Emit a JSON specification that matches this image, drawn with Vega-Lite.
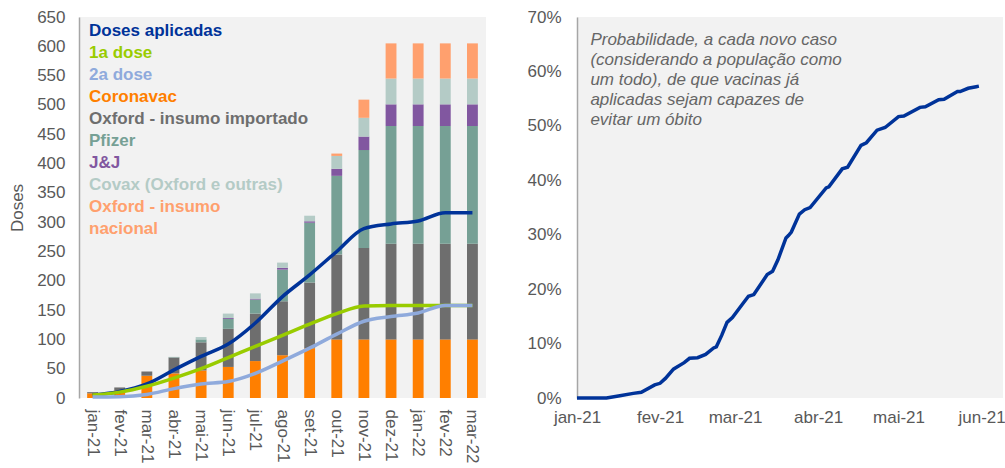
{
  "$schema": "https://vega.github.io/schema/vega-lite/v6.json",
  "background": "white",
  "padding": {"left": 8, "top": 8, "right": 0, "bottom": 0},
  "config": {
    "font": "Liberation Sans",
    "view": {"fill": "#F2F2F2", "stroke": null},
    "axis": {"labelFont": "Liberation Sans", "labelFontSize": 17, "labelColor": "#595959", "ticks": false, "grid": false, "labelOverlap": false, "domainColor": "#A6A6A6", "domainWidth": 1.5, "titleFont": "Liberation Sans", "titleFontSize": 17, "titleColor": "#595959", "titleFontWeight": "normal"}
  },
  "datasets": {
    "barras": [
      {"mes": "jan-21", "serie": "Coronavac", "ordem": 1, "doses": 8},
      {"mes": "jan-21", "serie": "Oxford - insumo importado", "ordem": 2, "doses": 2},
      {"mes": "fev-21", "serie": "Coronavac", "ordem": 1, "doses": 13},
      {"mes": "fev-21", "serie": "Oxford - insumo importado", "ordem": 2, "doses": 5},
      {"mes": "mar-21", "serie": "Coronavac", "ordem": 1, "doses": 38},
      {"mes": "mar-21", "serie": "Oxford - insumo importado", "ordem": 2, "doses": 7},
      {"mes": "abr-21", "serie": "Coronavac", "ordem": 1, "doses": 42},
      {"mes": "abr-21", "serie": "Oxford - insumo importado", "ordem": 2, "doses": 27},
      {"mes": "abr-21", "serie": "Pfizer", "ordem": 3, "doses": 0.7},
      {"mes": "abr-21", "serie": "Covax (Oxford e outras)", "ordem": 5, "doses": 0.5},
      {"mes": "mai-21", "serie": "Coronavac", "ordem": 1, "doses": 47},
      {"mes": "mai-21", "serie": "Oxford - insumo importado", "ordem": 2, "doses": 48},
      {"mes": "mai-21", "serie": "Pfizer", "ordem": 3, "doses": 5},
      {"mes": "mai-21", "serie": "Covax (Oxford e outras)", "ordem": 5, "doses": 4},
      {"mes": "jun-21", "serie": "Coronavac", "ordem": 1, "doses": 53},
      {"mes": "jun-21", "serie": "Oxford - insumo importado", "ordem": 2, "doses": 65},
      {"mes": "jun-21", "serie": "Pfizer", "ordem": 3, "doses": 17},
      {"mes": "jun-21", "serie": "J&J", "ordem": 4, "doses": 1.5},
      {"mes": "jun-21", "serie": "Covax (Oxford e outras)", "ordem": 5, "doses": 7.5},
      {"mes": "jul-21", "serie": "Coronavac", "ordem": 1, "doses": 63},
      {"mes": "jul-21", "serie": "Oxford - insumo importado", "ordem": 2, "doses": 81},
      {"mes": "jul-21", "serie": "Pfizer", "ordem": 3, "doses": 24},
      {"mes": "jul-21", "serie": "J&J", "ordem": 4, "doses": 1.5},
      {"mes": "jul-21", "serie": "Covax (Oxford e outras)", "ordem": 5, "doses": 9},
      {"mes": "ago-21", "serie": "Coronavac", "ordem": 1, "doses": 73},
      {"mes": "ago-21", "serie": "Oxford - insumo importado", "ordem": 2, "doses": 92},
      {"mes": "ago-21", "serie": "Pfizer", "ordem": 3, "doses": 54},
      {"mes": "ago-21", "serie": "J&J", "ordem": 4, "doses": 3},
      {"mes": "ago-21", "serie": "Covax (Oxford e outras)", "ordem": 5, "doses": 9},
      {"mes": "set-21", "serie": "Coronavac", "ordem": 1, "doses": 85},
      {"mes": "set-21", "serie": "Oxford - insumo importado", "ordem": 2, "doses": 112},
      {"mes": "set-21", "serie": "Pfizer", "ordem": 3, "doses": 102},
      {"mes": "set-21", "serie": "J&J", "ordem": 4, "doses": 2.5},
      {"mes": "set-21", "serie": "Covax (Oxford e outras)", "ordem": 5, "doses": 9.5},
      {"mes": "out-21", "serie": "Coronavac", "ordem": 1, "doses": 100},
      {"mes": "out-21", "serie": "Oxford - insumo importado", "ordem": 2, "doses": 145},
      {"mes": "out-21", "serie": "Pfizer", "ordem": 3, "doses": 134},
      {"mes": "out-21", "serie": "J&J", "ordem": 4, "doses": 12},
      {"mes": "out-21", "serie": "Covax (Oxford e outras)", "ordem": 5, "doses": 22},
      {"mes": "out-21", "serie": "Oxford - insumo nacional", "ordem": 6, "doses": 4},
      {"mes": "nov-21", "serie": "Coronavac", "ordem": 1, "doses": 100},
      {"mes": "nov-21", "serie": "Oxford - insumo importado", "ordem": 2, "doses": 156},
      {"mes": "nov-21", "serie": "Pfizer", "ordem": 3, "doses": 167},
      {"mes": "nov-21", "serie": "J&J", "ordem": 4, "doses": 23},
      {"mes": "nov-21", "serie": "Covax (Oxford e outras)", "ordem": 5, "doses": 32},
      {"mes": "nov-21", "serie": "Oxford - insumo nacional", "ordem": 6, "doses": 31},
      {"mes": "dez-21", "serie": "Coronavac", "ordem": 1, "doses": 100},
      {"mes": "dez-21", "serie": "Oxford - insumo importado", "ordem": 2, "doses": 163},
      {"mes": "dez-21", "serie": "Pfizer", "ordem": 3, "doses": 201},
      {"mes": "dez-21", "serie": "J&J", "ordem": 4, "doses": 37},
      {"mes": "dez-21", "serie": "Covax (Oxford e outras)", "ordem": 5, "doses": 44},
      {"mes": "dez-21", "serie": "Oxford - insumo nacional", "ordem": 6, "doses": 60},
      {"mes": "jan-22", "serie": "Coronavac", "ordem": 1, "doses": 100},
      {"mes": "jan-22", "serie": "Oxford - insumo importado", "ordem": 2, "doses": 163},
      {"mes": "jan-22", "serie": "Pfizer", "ordem": 3, "doses": 201},
      {"mes": "jan-22", "serie": "J&J", "ordem": 4, "doses": 37},
      {"mes": "jan-22", "serie": "Covax (Oxford e outras)", "ordem": 5, "doses": 44},
      {"mes": "jan-22", "serie": "Oxford - insumo nacional", "ordem": 6, "doses": 60},
      {"mes": "fev-22", "serie": "Coronavac", "ordem": 1, "doses": 100},
      {"mes": "fev-22", "serie": "Oxford - insumo importado", "ordem": 2, "doses": 163},
      {"mes": "fev-22", "serie": "Pfizer", "ordem": 3, "doses": 201},
      {"mes": "fev-22", "serie": "J&J", "ordem": 4, "doses": 37},
      {"mes": "fev-22", "serie": "Covax (Oxford e outras)", "ordem": 5, "doses": 44},
      {"mes": "fev-22", "serie": "Oxford - insumo nacional", "ordem": 6, "doses": 60},
      {"mes": "mar-22", "serie": "Coronavac", "ordem": 1, "doses": 100},
      {"mes": "mar-22", "serie": "Oxford - insumo importado", "ordem": 2, "doses": 163},
      {"mes": "mar-22", "serie": "Pfizer", "ordem": 3, "doses": 201},
      {"mes": "mar-22", "serie": "J&J", "ordem": 4, "doses": 37},
      {"mes": "mar-22", "serie": "Covax (Oxford e outras)", "ordem": 5, "doses": 44},
      {"mes": "mar-22", "serie": "Oxford - insumo nacional", "ordem": 6, "doses": 60}
    ],
    "linhas": [
      {"mes": "jan-21", "serie": "Doses aplicadas", "doses": 5},
      {"mes": "fev-21", "serie": "Doses aplicadas", "doses": 11},
      {"mes": "mar-21", "serie": "Doses aplicadas", "doses": 24},
      {"mes": "abr-21", "serie": "Doses aplicadas", "doses": 48},
      {"mes": "mai-21", "serie": "Doses aplicadas", "doses": 71},
      {"mes": "jun-21", "serie": "Doses aplicadas", "doses": 92},
      {"mes": "jul-21", "serie": "Doses aplicadas", "doses": 128},
      {"mes": "ago-21", "serie": "Doses aplicadas", "doses": 173},
      {"mes": "set-21", "serie": "Doses aplicadas", "doses": 210},
      {"mes": "out-21", "serie": "Doses aplicadas", "doses": 250},
      {"mes": "nov-21", "serie": "Doses aplicadas", "doses": 289},
      {"mes": "dez-21", "serie": "Doses aplicadas", "doses": 297},
      {"mes": "jan-22", "serie": "Doses aplicadas", "doses": 302},
      {"mes": "fev-22", "serie": "Doses aplicadas", "doses": 316},
      {"mes": "mar-22", "serie": "Doses aplicadas", "doses": 316},
      {"mes": "jan-21", "serie": "1a dose", "doses": 5},
      {"mes": "fev-21", "serie": "1a dose", "doses": 10},
      {"mes": "mar-21", "serie": "1a dose", "doses": 20},
      {"mes": "abr-21", "serie": "1a dose", "doses": 34},
      {"mes": "mai-21", "serie": "1a dose", "doses": 50},
      {"mes": "jun-21", "serie": "1a dose", "doses": 69},
      {"mes": "jul-21", "serie": "1a dose", "doses": 88},
      {"mes": "ago-21", "serie": "1a dose", "doses": 107},
      {"mes": "set-21", "serie": "1a dose", "doses": 126},
      {"mes": "out-21", "serie": "1a dose", "doses": 144},
      {"mes": "nov-21", "serie": "1a dose", "doses": 157},
      {"mes": "dez-21", "serie": "1a dose", "doses": 158},
      {"mes": "jan-22", "serie": "1a dose", "doses": 158},
      {"mes": "fev-22", "serie": "1a dose", "doses": 158},
      {"mes": "mar-22", "serie": "1a dose", "doses": 158},
      {"mes": "jan-21", "serie": "2a dose", "doses": 1.5},
      {"mes": "fev-21", "serie": "2a dose", "doses": 2},
      {"mes": "mar-21", "serie": "2a dose", "doses": 6},
      {"mes": "abr-21", "serie": "2a dose", "doses": 16},
      {"mes": "mai-21", "serie": "2a dose", "doses": 24},
      {"mes": "jun-21", "serie": "2a dose", "doses": 28},
      {"mes": "jul-21", "serie": "2a dose", "doses": 42},
      {"mes": "ago-21", "serie": "2a dose", "doses": 63},
      {"mes": "set-21", "serie": "2a dose", "doses": 85},
      {"mes": "out-21", "serie": "2a dose", "doses": 109},
      {"mes": "nov-21", "serie": "2a dose", "doses": 131},
      {"mes": "dez-21", "serie": "2a dose", "doses": 139},
      {"mes": "jan-22", "serie": "2a dose", "doses": 145},
      {"mes": "fev-22", "serie": "2a dose", "doses": 158},
      {"mes": "mar-22", "serie": "2a dose", "doses": 158}
    ],
    "prob": [
      {"data": "2021-01-01", "prob": 0},
      {"data": "2021-01-12", "prob": 0},
      {"data": "2021-01-17", "prob": 0.004},
      {"data": "2021-01-22", "prob": 0.0085},
      {"data": "2021-01-25", "prob": 0.0105},
      {"data": "2021-01-30", "prob": 0.024},
      {"data": "2021-02-01", "prob": 0.027},
      {"data": "2021-02-03", "prob": 0.036},
      {"data": "2021-02-06", "prob": 0.053},
      {"data": "2021-02-07", "prob": 0.056},
      {"data": "2021-02-10", "prob": 0.065},
      {"data": "2021-02-12", "prob": 0.073},
      {"data": "2021-02-15", "prob": 0.074},
      {"data": "2021-02-18", "prob": 0.08},
      {"data": "2021-02-21", "prob": 0.092},
      {"data": "2021-02-22", "prob": 0.094},
      {"data": "2021-02-24", "prob": 0.115},
      {"data": "2021-02-26", "prob": 0.139},
      {"data": "2021-02-28", "prob": 0.148},
      {"data": "2021-03-04", "prob": 0.174},
      {"data": "2021-03-06", "prob": 0.187},
      {"data": "2021-03-08", "prob": 0.19},
      {"data": "2021-03-13", "prob": 0.227},
      {"data": "2021-03-15", "prob": 0.233},
      {"data": "2021-03-17", "prob": 0.254},
      {"data": "2021-03-20", "prob": 0.294},
      {"data": "2021-03-21", "prob": 0.299},
      {"data": "2021-03-22", "prob": 0.305},
      {"data": "2021-03-25", "prob": 0.338},
      {"data": "2021-03-27", "prob": 0.346},
      {"data": "2021-03-29", "prob": 0.35},
      {"data": "2021-04-04", "prob": 0.386},
      {"data": "2021-04-05", "prob": 0.388},
      {"data": "2021-04-10", "prob": 0.421},
      {"data": "2021-04-12", "prob": 0.424},
      {"data": "2021-04-17", "prob": 0.464},
      {"data": "2021-04-19", "prob": 0.469},
      {"data": "2021-04-23", "prob": 0.492},
      {"data": "2021-04-26", "prob": 0.497},
      {"data": "2021-05-01", "prob": 0.517},
      {"data": "2021-05-03", "prob": 0.518},
      {"data": "2021-05-09", "prob": 0.534},
      {"data": "2021-05-11", "prob": 0.535},
      {"data": "2021-05-16", "prob": 0.548},
      {"data": "2021-05-18", "prob": 0.549},
      {"data": "2021-05-23", "prob": 0.563},
      {"data": "2021-05-24", "prob": 0.563},
      {"data": "2021-05-27", "prob": 0.569},
      {"data": "2021-05-30", "prob": 0.572},
      {"data": "2021-05-31", "prob": 0.573}
    ]
  },
  "spacing": 40,
  "resolve": {"scale": {"color": "independent"}, "legend": {"color": "independent"}},
  "hconcat": [
    {
      "width": 407,
      "height": 381,
      "encoding": {
        "x": {"field": "mes", "type": "ordinal", "scale": {"domain": ["jan-21", "fev-21", "mar-21", "abr-21", "mai-21", "jun-21", "jul-21", "ago-21", "set-21", "out-21", "nov-21", "dez-21", "jan-22", "fev-22", "mar-22"], "paddingInner": 0.6, "paddingOuter": 0.3}, "axis": {"title": null, "labelAngle": 90, "labelAlign": "left", "labelBaseline": "middle", "labelPadding": 11, "domain": false}},
        "y": {"field": "doses", "type": "quantitative", "scale": {"domain": [0, 650]}, "axis": {"title": "Doses", "values": [0, 50, 100, 150, 200, 250, 300, 350, 400, 450, 500, 550, 600, 650], "labelOverlap": false, "labelPadding": 14, "titlePadding": 10}}
      },
      "layer": [
        {
          "data": {"name": "barras"},
          "mark": {"type": "bar"},
          "encoding": {
            "color": {
              "field": "serie", "type": "nominal",
              "scale": {
                "domain": ["Doses aplicadas", "1a dose", "2a dose", "Coronavac", "Oxford - insumo importado", "Pfizer", "J&J", "Covax (Oxford e outras)", "Oxford - insumo nacional"],
                "range": ["#003399", "#99CC00", "#8FAADC", "#FF7F00", "#6E6E6E", "#76A095", "#8157A0", "#B4CBC6", "#FFA06E"]
              },
              "legend": {
                "orient": "none", "legendX": 0, "legendY": 5, "title": null, "padding": 0,
                "labelFont": "Liberation Sans", "labelFontSize": 17, "labelFontWeight": "bold",
                "symbolSize": 0, "symbolStrokeWidth": 0, "symbolOpacity": 0, "labelOffset": -7,
                "rowPadding": 4, "labelBaseline": "middle", "labelLimit": 400,
                "labelExpr": "datum.label == 'Oxford - insumo nacional' ? ['Oxford - insumo', 'nacional'] : datum.label",
                "encode": {"labels": {"update": {"fill": {"signal": "['#003399', '#99CC00', '#8FAADC', '#FF7F00', '#6E6E6E', '#76A095', '#8157A0', '#B4CBC6', '#FFA06E'][indexof(['Doses aplicadas', '1a dose', '2a dose', 'Coronavac', 'Oxford - insumo importado', 'Pfizer', 'J&J', 'Covax (Oxford e outras)', 'Oxford - insumo nacional'], datum.value)]"}, "lineHeight": {"value": 22}}}}
              }
            },
            "order": {"field": "ordem", "type": "quantitative", "sort": "ascending"}
          }
        },
        {
          "data": {"name": "linhas"},
          "mark": {"type": "line", "strokeWidth": 3.5, "interpolate": "monotone"},
          "encoding": {
            "color": {"field": "serie", "type": "nominal", "legend": null}
          }
        }
      ]
    },
    {
      "width": 426,
      "height": 381,
      "layer": [
        {
          "data": {"name": "prob"},
          "mark": {"type": "line", "color": "#003399", "strokeWidth": 3.5},
          "encoding": {
            "x": {"field": "data", "type": "temporal", "scale": {"type": "utc", "domain": [{"year": 2021, "month": 1, "date": 1, "utc": true}, {"year": 2021, "month": 6, "date": 9, "utc": true}]}, "axis": {"title": null, "domain": false, "labelFlush": false, "labelPadding": 11, "values": [{"year": 2021, "month": 1, "date": 1, "utc": true}, {"year": 2021, "month": 2, "date": 1, "utc": true}, {"year": 2021, "month": 3, "date": 1, "utc": true}, {"year": 2021, "month": 4, "date": 1, "utc": true}, {"year": 2021, "month": 5, "date": 1, "utc": true}, {"year": 2021, "month": 6, "date": 1, "utc": true}], "labelExpr": "['jan','fev','mar','abr','mai','jun','jul','ago','set','out','nov','dez'][utcmonth(datum.value)] + '-21'"}},
            "y": {"field": "prob", "type": "quantitative", "scale": {"domain": [0, 0.7]}, "axis": {"title": null, "format": ".0%", "values": [0, 0.1, 0.2, 0.3, 0.4, 0.5, 0.6, 0.7], "labelPadding": 16}}
          }
        },
        {
          "data": {"values": [{}]},
          "mark": {"type": "text", "text": ["Probabilidade, a cada novo caso", "(considerando a população como", "um todo), de que vacinas já", "aplicadas sejam capazes de", "evitar um óbito"], "align": "left", "baseline": "top", "font": "Liberation Sans", "fontStyle": "italic", "fontSize": 17, "lineHeight": 20, "color": "#666666"},
          "encoding": {
            "x": {"datum": {"year": 2021, "month": 1, "date": 6, "utc": true}},
            "y": {"datum": 0.673}
          }
        }
      ]
    }
  ]
}
